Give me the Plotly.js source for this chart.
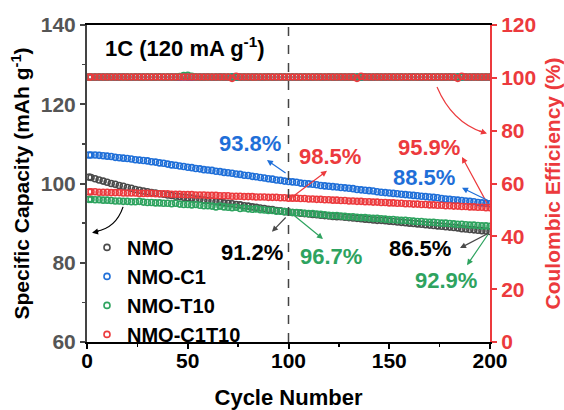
<!DOCTYPE html>
<html>
<head>
<meta charset="utf-8">
<script src="https://cdn.plot.ly/plotly-3.0.1.min.js"></script>
<style>
  html, body { margin: 0; padding: 0; background: #fff; }
  #chart { width: 564px; height: 410px; }
</style>
</head>
<body>
<div id="chart"></div>
<script>
// Cycle numbers at which capacity / efficiency points are plotted
const cycles = [1,
  2,4,6,8,10,12,14,16,18,20,
  22,24,26,28,30,32,34,36,38,40,
  42,44,46,48,50,52,54,56,58,60,
  62,64,66,68,70,72,74,76,78,80,
  82,84,86,88,90,92,94,96,98,100,
  102,104,106,108,110,112,114,116,118,120,
  122,124,126,128,130,132,134,136,138,140,
  142,144,146,148,150,152,154,156,158,160,
  162,164,166,168,170,172,174,176,178,180,
  182,184,186,188,190,192,194,196,198,200];

const seriesNames = ['NMO', 'NMO-C1', 'NMO-T10', 'NMO-C1T10'];

// Specific discharge capacity (mAh g-1)
const capNMO = [101.6,
  101.5,101.2,100.9,100.6,100.3,100.0,99.8,99.5,99.3,99.0,
  98.8,98.5,98.3,98.1,97.9,97.7,97.6,97.4,97.3,97.1,
  97.0,96.8,96.7,96.5,96.4,96.3,96.1,96.0,95.8,95.7,
  95.6,95.4,95.3,95.1,95.0,94.9,94.7,94.6,94.4,94.3,
  94.1,94.0,93.8,93.7,93.5,93.4,93.2,93.1,92.9,92.8,
  92.7,92.6,92.5,92.4,92.3,92.2,92.1,92.0,91.9,91.8,
  91.7,91.6,91.6,91.5,91.4,91.3,91.2,91.1,91.0,90.9,
  90.8,90.7,90.7,90.6,90.5,90.4,90.3,90.2,90.1,90.0,
  89.9,89.8,89.7,89.6,89.5,89.4,89.3,89.2,89.1,89.0,
  88.9,88.8,88.6,88.5,88.4,88.3,88.2,88.1,88.0,87.9];

const capC1 = [107.2,
  107.2,107.2,107.1,107.0,106.9,106.8,106.6,106.5,106.4,106.3,
  106.2,106.0,105.9,105.8,105.7,105.5,105.4,105.2,105.1,104.9,
  104.7,104.6,104.4,104.3,104.1,104.0,103.8,103.7,103.5,103.4,
  103.3,103.1,103.0,102.8,102.7,102.6,102.4,102.3,102.1,102.0,
  101.8,101.7,101.5,101.4,101.2,101.1,100.9,100.8,100.6,100.5,
  100.4,100.3,100.1,100.0,99.9,99.8,99.7,99.5,99.4,99.3,
  99.2,99.1,99.0,98.9,98.8,98.7,98.5,98.4,98.3,98.2,
  98.1,97.9,97.8,97.7,97.6,97.5,97.4,97.3,97.2,97.1,
  97.0,96.9,96.8,96.7,96.6,96.5,96.4,96.2,96.1,96.0,
  95.9,95.8,95.7,95.6,95.5,95.4,95.2,95.1,95.0,94.9];

const capT10 = [96.0,
  96.0,95.9,95.9,95.8,95.8,95.7,95.6,95.6,95.5,95.5,
  95.4,95.4,95.5,95.3,95.2,95.2,95.1,95.1,95.0,95.0,
  94.9,95.0,94.8,94.7,94.7,94.6,94.7,94.5,94.4,94.4,
  94.3,94.1,94.3,94.1,94.0,93.9,94.0,93.7,93.8,93.6,
  93.5,93.6,93.4,93.3,93.2,93.2,93.0,93.0,92.9,92.8,
  92.7,92.7,92.6,92.5,92.4,92.4,92.3,92.2,92.1,92.0,
  91.9,91.9,91.8,91.7,91.6,91.6,91.5,91.4,91.4,91.3,
  91.2,91.2,91.1,91.0,90.9,90.9,90.8,90.7,90.7,90.6,
  90.5,90.4,90.4,90.3,90.2,90.2,90.1,90.0,90.0,89.9,
  89.8,89.7,89.7,89.6,89.5,89.5,89.4,89.3,89.3,89.2];

const capC1T10 = [97.9,
  97.9,97.9,97.8,97.8,97.8,97.7,97.7,97.7,97.6,97.6,
  97.6,97.6,97.5,97.5,97.5,97.5,97.4,97.4,97.4,97.4,
  97.3,97.3,97.3,97.2,97.2,97.2,97.1,97.1,97.1,97.0,
  97.0,97.0,96.9,96.9,96.9,96.8,96.8,96.8,96.7,96.7,
  96.7,96.6,96.6,96.6,96.5,96.5,96.5,96.4,96.4,96.3,
  96.3,96.3,96.2,96.2,96.1,96.1,96.0,96.0,95.9,95.9,
  95.8,95.8,95.7,95.7,95.6,95.6,95.5,95.5,95.4,95.4,
  95.3,95.3,95.2,95.2,95.1,95.1,95.0,95.0,94.9,94.9,
  94.8,94.8,94.7,94.7,94.6,94.6,94.5,94.5,94.4,94.4,
  94.3,94.3,94.2,94.2,94.1,94.1,94.0,94.0,93.9,93.9];

// Coulombic efficiency (%)
const ceNMO = [100.2,
  100.2,100.2,100.3,100.2,100.2,100.3,100.2,100.2,100.3,100.2,
  100.2,100.3,100.2,100.2,100.3,100.2,100.2,100.3,100.2,100.2,
  100.3,100.2,100.2,100.3,100.2,100.2,100.3,100.2,100.2,100.3,
  100.2,100.2,100.3,100.2,100.2,100.3,100.2,100.2,100.3,100.2,
  100.2,100.3,100.2,100.2,100.3,100.2,100.2,100.3,100.2,100.2,
  100.3,100.2,100.2,100.3,100.2,100.2,100.3,100.2,100.2,100.3,
  100.2,100.2,100.3,100.2,100.2,100.3,100.2,100.2,100.3,100.2,
  100.2,100.3,100.2,100.2,100.3,100.2,100.2,100.3,100.2,100.2,
  100.3,100.2,100.2,100.3,100.2,100.2,100.3,100.2,100.2,100.3,
  100.2,100.2,100.3,100.2,100.2,100.3,100.2,100.2,100.3,100.2];

const ceC1 = [100.3,
  100.3,100.3,100.2,100.3,100.3,100.3,100.2,100.3,100.3,100.3,
  100.2,100.3,100.3,100.3,100.2,100.3,100.3,100.3,100.2,100.3,
  100.3,100.3,100.2,100.3,100.3,100.3,100.2,100.3,100.3,100.3,
  100.2,100.3,100.3,100.3,100.2,100.3,100.3,100.3,100.2,100.3,
  100.3,100.3,100.2,100.3,100.3,100.3,100.2,100.3,100.3,100.3,
  100.2,100.3,100.3,100.3,100.2,100.3,100.3,100.3,100.2,100.3,
  100.3,100.3,100.2,100.3,100.3,100.3,100.2,100.3,100.3,100.3,
  100.2,100.3,100.3,100.3,100.2,100.3,100.3,100.3,100.2,100.3,
  100.3,100.3,100.2,100.3,100.3,100.3,100.2,100.3,100.3,100.3,
  100.2,100.3,100.3,100.3,100.2,100.3,100.3,100.3,100.2,100.3];

const ceT10 = [100.3,
  100.3,100.3,100.3,100.3,100.3,100.3,100.3,100.3,100.3,100.3,
  100.3,100.3,100.3,100.3,100.3,100.3,100.3,100.3,100.3,100.3,
  100.3,100.3,100.5,100.9,101.0,100.6,100.3,100.3,100.3,100.3,
  100.3,100.3,100.3,100.3,100.3,100.3,100.3,100.3,100.3,100.3,
  100.3,100.3,100.3,100.3,100.3,100.3,100.3,100.3,100.3,100.3,
  100.3,100.3,100.3,100.3,100.3,100.3,100.3,100.3,100.3,100.3,
  100.3,100.3,100.3,100.3,100.3,100.3,100.3,100.3,100.3,100.3,
  100.3,100.3,100.3,100.3,100.3,100.3,100.3,100.3,100.3,100.3,
  100.3,100.3,100.3,100.3,100.3,100.3,100.3,100.3,100.3,100.3,
  100.3,100.3,100.3,100.3,100.3,100.3,100.3,100.3,100.3,100.3];

const ceC1T10 = [100.3,
  100.3,100.3,100.3,100.3,100.3,100.3,100.3,100.3,100.3,100.3,
  100.3,100.3,100.3,100.3,100.3,100.3,100.3,100.3,100.3,100.3,
  100.3,100.3,100.3,100.3,100.3,100.3,100.3,100.3,100.3,100.3,
  100.3,100.3,100.3,100.3,100.3,99.8,100.6,100.3,100.3,100.3,
  100.3,100.3,100.3,100.3,100.3,100.3,100.3,100.3,100.3,100.3,
  100.3,100.3,100.3,100.3,100.3,100.3,100.3,100.3,100.3,100.3,
  100.3,100.3,100.3,100.3,100.3,100.3,99.8,100.6,100.3,100.3,
  100.3,100.3,100.3,100.3,100.3,100.3,100.3,100.3,100.3,100.3,
  100.3,100.3,100.3,100.3,100.3,100.3,100.3,100.3,100.3,100.3,
  100.3,99.8,100.6,100.3,100.3,100.3,100.3,100.3,100.3,100.3];

// Capacity retention labels: [text, colour index, label x, label y, arrow head x, y, arrow tail x, y]
const retentionLabels = [
  ['93.8%', 1, 80.9, 110.2, 89.3, 105.9, 99.3, 102.4],
  ['98.5%', 3, 120.6, 106.7, 119.1, 103.2, 99.8, 95.8],
  ['95.9%', 3, 169.7, 109.2, 186.1, 106.7, 199.0, 94.6],
  ['88.5%', 1, 167.2, 101.6, 186.1, 98.9, 199.5, 95.6],
  ['91.2%', 0, 81.9, 82.5, 91.8, 87.8, 99.3, 91.8],
  ['96.7%', 2, 121.1, 81.5, 117.1, 86.0, 100.7, 92.8],
  ['86.5%', 0, 165.3, 83.7, 185.1, 83.7, 199.5, 87.5],
  ['92.9%', 2, 178.2, 75.6, 188.6, 79.4, 199.5, 87.5]
];

const colors = ['#4a4a4a', '#1f6fd8', '#2ea35f', '#ec3a3d'];
const textColors = ['#000000', '#1f6fd8', '#2ea35f', '#ec3a3d'];
const capSeries = [capNMO, capC1, capT10, capC1T10];
const ceSeries = [ceNMO, ceC1, ceT10, ceC1T10];
const FONT = 'Arial, "Liberation Sans", sans-serif';

function markerStyle(c) {
  return { symbol: 'circle-open', size: 6, color: c, line: { width: 1.6, color: c } };
}

const traces = [];
ceSeries.forEach((ys, i) => {
  traces.push({
    x: cycles, y: ys, yaxis: 'y2', type: 'scatter', mode: 'markers',
    showlegend: false, hoverinfo: 'skip', marker: markerStyle(colors[i])
  });
});
capSeries.forEach((ys, i) => {
  traces.push({
    x: cycles, y: ys, type: 'scatter', mode: 'markers', name: seriesNames[i],
    marker: markerStyle(colors[i])
  });
});

const annotations = [{
  x: 48.6, y: 134.4, xref: 'x', yref: 'y', showarrow: false,
  text: '1C (120 mA g<sup>-1</sup>)',
  font: { family: FONT, size: 22, color: '#000', weight: 'bold' }
}];
const shapes = [{
  type: 'line', xref: 'x', yref: 'paper', x0: 100, x1: 100, y0: 0, y1: 1,
  line: { color: '#444', width: 1.5, dash: 'dash' }
}];

retentionLabels.forEach(r => {
  const c = textColors[r[1]];
  annotations.push({
    x: r[2], y: r[3], xref: 'x', yref: 'y', showarrow: false, text: r[0],
    font: { family: FONT, size: 22, color: c, weight: 'bold' }
  });
  annotations.push({
    x: r[4], y: r[5], ax: r[6], ay: r[7], xref: 'x', yref: 'y', axref: 'x', ayref: 'y',
    text: '', showarrow: true, arrowhead: 2, arrowsize: 1, arrowwidth: 1.2,
    arrowcolor: colors[r[1]]
  });
});

// curved pointers: capacity curves -> left axis, efficiency curves -> right axis
shapes.push({
  type: 'path', xref: 'x', yref: 'y',
  path: 'M 17.9,94.1 Q 14.4,88.8 4.5,87.9',
  line: { color: '#000', width: 1.2 }
});
annotations.push({
  x: 2.5, y: 87.6, ax: 6.5, ay: 88.0, xref: 'x', yref: 'y', axref: 'x', ayref: 'y',
  text: '', showarrow: true, arrowhead: 2, arrowsize: 1, arrowwidth: 1.2, arrowcolor: '#000'
});
shapes.push({
  type: 'path', xref: 'x', yref: 'y',
  path: 'M 173.7,124.35 Q 181.1,115.5 196.5,112.9',
  line: { color: colors[3], width: 1.2 }
});
annotations.push({
  x: 198.5, y: 112.6, ax: 194.0, ay: 113.4, xref: 'x', yref: 'y', axref: 'x', ayref: 'y',
  text: '', showarrow: true, arrowhead: 2, arrowsize: 1, arrowwidth: 1.2, arrowcolor: colors[3]
});

const layout = {
  width: 564, height: 410,
  margin: { l: 87, r: 74, t: 25, b: 68 },
  paper_bgcolor: '#fff', plot_bgcolor: '#fff',
  font: { family: FONT, size: 21, color: '#000', weight: 'bold' },
  showlegend: true,
  legend: {
    x: 0.0, y: 0.36, xanchor: 'left', yanchor: 'top',
    bgcolor: 'rgba(0,0,0,0)', itemwidth: 30, tracegroupgap: 0,
    font: { family: FONT, size: 20, color: '#000', weight: 'bold' }
  },
  xaxis: {
    range: [0, 200], dtick: 50, tick0: 0,
    showgrid: false, zeroline: false,
    showline: true, linecolor: '#000', linewidth: 2, mirror: true,
    ticks: 'outside', ticklen: 5, tickwidth: 2, tickcolor: '#000',
    ticklabelstandoff: -6,
    minor: { dtick: 25, ticks: 'outside', ticklen: 3, tickwidth: 1.5, tickcolor: '#000' },
    tickfont: { family: FONT, size: 21, color: '#000', weight: 'bold' },
    title: { text: 'Cycle Number', standoff: 20, font: { family: FONT, size: 22, color: '#000', weight: 'bold' } },
    automargin: false
  },
  yaxis: {
    range: [60, 140], dtick: 20, tick0: 60,
    showgrid: false, zeroline: false,
    showline: true, linecolor: '#444', linewidth: 2,
    ticks: 'outside', ticklen: 5, tickwidth: 2, tickcolor: '#444',
    minor: { dtick: 10, ticks: 'outside', ticklen: 3, tickwidth: 1.5, tickcolor: '#444' },
    tickfont: { family: FONT, size: 21, color: '#555', weight: 'bold' },
    title: { text: 'Specific Capacity (mAh g<sup>-1</sup>)', standoff: 5, font: { family: FONT, size: 21, color: '#000', weight: 'bold' } },
    automargin: false
  },
  yaxis2: {
    overlaying: 'y', side: 'right', anchor: 'x',
    range: [0, 120], dtick: 20, tick0: 0,
    showgrid: false, zeroline: false,
    showline: true, linecolor: colors[3], linewidth: 2,
    ticks: 'outside', ticklen: 5, tickwidth: 2, tickcolor: colors[3],
    tickfont: { family: FONT, size: 21, color: colors[3], weight: 'bold' },
    title: { text: 'Coulombic Efficiency (%)', standoff: 12, font: { family: FONT, size: 21, color: colors[3], weight: 'bold' } },
    automargin: false
  },
  annotations: annotations,
  shapes: shapes
};

Plotly.newPlot('chart', traces, layout, { displayModeBar: false, staticPlot: true });
</script>
</body>
</html>
